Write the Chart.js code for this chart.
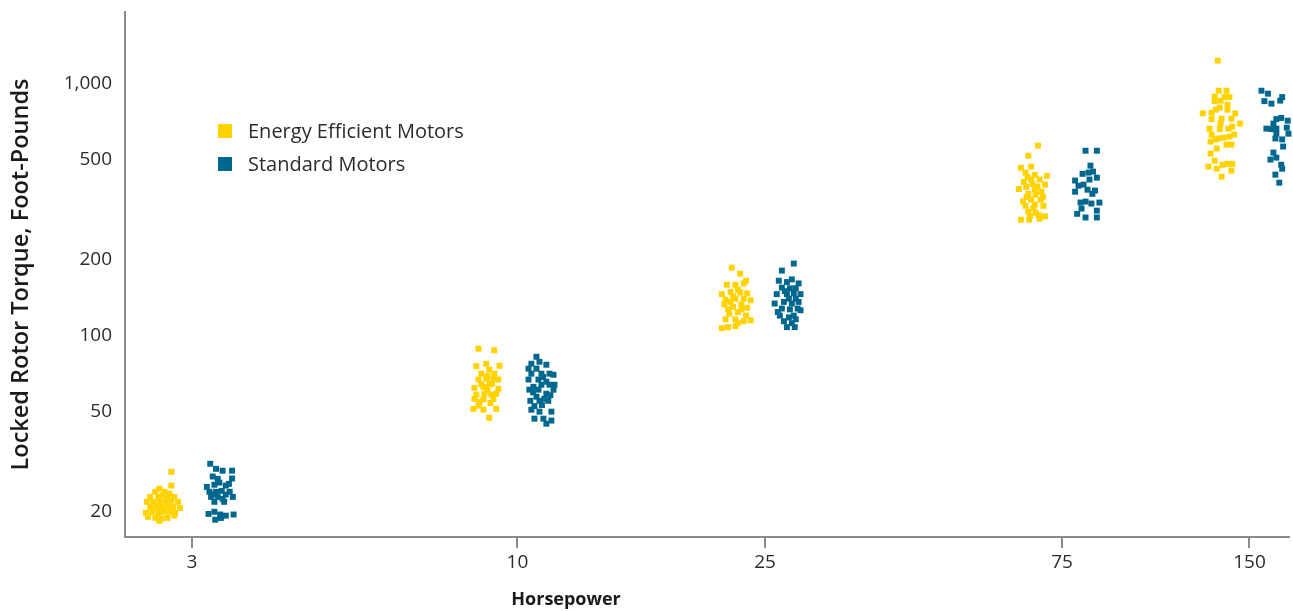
<!DOCTYPE html>
<html>
<head>
<meta charset="utf-8">
<script src="https://cdn.jsdelivr.net/npm/chart.js@4/dist/chart.umd.min.js"></script>
<style>
  html, body { margin: 0; padding: 0; background: #fff; }
  #wrap { width: 1293px; height: 611px; }
</style>
</head>
<body>
<div id="wrap"><canvas id="torqueChart" width="1293" height="611"></canvas></div>
<script>
// horsepower groups and the torque axis ticks
const hpTicks = [3, 10, 25, 75, 150];
const torqueTicks = [20, 50, 100, 200, 500, 1000];

// [horsepower (jittered), locked rotor torque]
const eff3 = [[2.78,28.8],[2.78,25.4],[2.66,24.7],[2.62,24.0],[2.71,24.0],[2.76,23.6],[2.57,22.9],[2.65,22.9],[2.69,23.2],[2.74,22.7],[2.81,22.9],[2.54,21.9],[2.60,21.9],[2.66,21.9],[2.72,21.9],[2.78,22.1],[2.85,21.9],[2.57,20.9],[2.63,20.9],[2.68,20.9],[2.74,21.1],[2.80,20.9],[2.87,20.7],[2.53,19.8],[2.59,20.0],[2.65,19.8],[2.70,20.0],[2.76,20.0],[2.82,19.8],[2.62,18.9],[2.68,18.8],[2.74,18.9],[2.55,19.1],[2.81,19.3],[2.66,18.4]];
const std3 = [[3.21,31.0],[3.28,29.6],[3.36,29.1],[3.48,29.1],[3.48,27.1],[3.24,27.6],[3.32,26.1],[3.17,25.1],[3.26,25.6],[3.40,25.4],[3.20,24.0],[3.28,24.0],[3.35,24.2],[3.45,24.0],[3.22,22.9],[3.30,22.9],[3.40,23.4],[3.49,22.9],[3.26,21.9],[3.38,21.9],[3.19,19.6],[3.26,20.0],[3.33,19.5],[3.40,19.3],[3.50,19.5],[3.27,18.6],[3.34,18.9],[3.30,27.0],[3.24,23.5],[3.36,22.5],[3.44,25.8]];
const eff10 = [[8.66,88.7],[9.18,87.4],[8.59,75.6],[8.91,77.3],[9.36,75.9],[8.75,70.6],[9.01,73.2],[9.18,70.6],[8.66,66.9],[8.91,67.4],[9.15,67.4],[9.32,66.9],[8.53,62.0],[8.82,62.6],[9.01,63.8],[9.32,61.5],[8.59,58.3],[8.85,58.8],[9.08,58.3],[9.25,58.8],[8.53,56.1],[8.82,55.8],[9.15,56.1],[8.50,51.2],[8.66,52.7],[8.82,50.8],[9.25,51.2],[9.01,47.2],[8.95,60.5],[9.10,64.5],[8.75,64.0],[9.05,54.0],[8.70,54.5],[8.95,69.0]];
const std10 = [[10.73,82.4],[10.53,77.3],[10.85,78.7],[10.42,73.9],[10.73,73.9],[11.13,76.6],[10.53,70.6],[10.93,70.6],[11.26,70.6],[10.42,66.9],[10.81,66.9],[11.13,65.6],[11.43,69.9],[10.61,62.6],[10.93,63.8],[11.26,63.8],[11.47,63.8],[10.45,61.0],[10.81,61.0],[11.13,58.8],[11.43,61.0],[10.73,57.2],[11.05,56.1],[10.49,55.1],[10.85,55.1],[11.21,55.1],[10.53,50.8],[10.85,49.9],[11.34,49.9],[10.65,46.8],[11.01,46.8],[11.13,44.7],[11.34,46.0],[10.60,59.5],[11.00,68.5],[10.65,52.5],[11.30,58.0],[10.95,53.0]];
const eff25 = [[22.1,186],[22.8,176],[21.7,159],[22.4,159],[23.1,161],[23.3,165],[21.3,146],[22.0,149],[22.8,148],[23.4,147],[21.6,139],[22.4,140],[23.1,140],[23.7,138],[21.5,133],[22.2,130],[22.9,133],[23.4,129],[21.9,122],[22.6,124],[23.3,120],[21.6,116],[22.4,116],[23.1,114],[23.7,115],[21.3,107],[21.8,108],[22.4,109],[22.6,152],[22.0,136],[22.9,127],[21.8,127],[22.6,112],[22.2,143]];
const std25 = [[27.8,193],[26.6,181],[26.3,165],[27.1,163],[27.6,167],[28.3,161],[26.6,155],[27.4,154],[28.0,154],[26.1,146],[27.1,146],[27.8,147],[28.5,146],[25.9,134],[26.8,136],[27.6,134],[28.3,136],[26.6,128],[27.4,127],[28.2,128],[26.4,120],[27.3,118],[27.8,120],[28.5,126],[26.8,114],[27.6,112],[28.0,116],[27.1,108],[27.9,108],[26.9,150],[27.3,140],[26.2,124],[28.0,140]];
const eff75 = [[68.6,567],[66.2,517],[64.4,463],[66.9,468],[65.5,443],[67.8,434],[70.9,430],[65.1,407],[66.9,416],[69.0,416],[63.9,381],[65.7,389],[67.8,381],[70.4,397],[66.2,365],[68.0,362],[66.9,346],[69.3,346],[65.5,327],[67.8,331],[70.0,327],[66.2,310],[68.0,307],[64.4,288],[66.4,288],[69.0,291],[70.4,297],[67.2,400],[68.5,390],[66.0,425],[69.5,372],[65.8,355],[67.4,320],[68.8,300],[66.6,298],[64.9,340],[69.9,355]];
const std75 = [[81.8,541],[85.3,541],[83.3,472],[80.9,438],[82.7,443],[84.1,447],[85.3,423],[78.7,412],[83.0,416],[79.7,393],[81.2,397],[78.7,372],[82.4,379],[84.7,376],[83.9,365],[80.3,337],[81.8,340],[83.6,334],[86.1,337],[80.6,319],[85.3,313],[79.3,304],[81.8,294],[85.3,294]];
const eff150 = [[133.4,1232],[133.9,936],[137.8,936],[131.9,887],[136.8,883],[139.3,883],[131.9,851],[134.8,855],[138.3,824],[134.4,802],[138.3,787],[126.2,761],[130.4,766],[132.4,787],[142.3,761],[130.4,722],[135.3,725],[140.3,725],[134.8,693],[144.9,693],[129.4,662],[134.4,659],[138.8,662],[140.8,674],[130.4,627],[133.9,605],[136.3,610],[139.3,615],[141.8,627],[129.9,588],[132.4,600],[137.8,572],[140.3,572],[132.9,552],[129.9,527],[131.9,494],[135.8,476],[138.3,480],[140.8,480],[128.9,468],[132.9,459],[140.3,451],[135.3,427]];
const std150 = [[156.8,936],[160.6,911],[169.3,883],[158.5,851],[162.7,832],[168.1,855],[165.7,722],[168.7,730],[172.8,712],[163.9,693],[159.7,662],[162.7,659],[165.7,662],[172.2,668],[165.7,632],[173.3,632],[165.1,605],[169.3,600],[169.9,562],[163.9,532],[165.7,508],[162.1,499],[168.7,476],[169.3,459],[165.1,435],[167.5,404]];

const seriesLabels = ['Energy Efficient Motors', 'Standard Motors'];
const seriesColors = ['#FFD200', '#00678F'];

const toPoints = arr => arr.map(p => ({ x: p[0], y: p[1] }));
const effPoints = [eff3, eff10, eff25, eff75, eff150].flatMap(toPoints);
const stdPoints = [std3, std10, std25, std75, std150].flatMap(toPoints);

const axisGray = '#8a8a8a';
const textColor = '#2b2b2b';

// legend sits inside the plot, upper left
const innerLegend = {
  id: 'innerLegend',
  afterDraw(chart) {
    const ctx = chart.ctx;
    ctx.save();
    ctx.font = '20px "Open Sans"';
    ctx.textBaseline = 'middle';
    seriesLabels.forEach((lbl, i) => {
      const y = 131 + i * 33;
      ctx.fillStyle = seriesColors[i];
      ctx.fillRect(218, y - 7, 14, 14);
      ctx.fillStyle = textColor;
      ctx.fillText(lbl, 248, y + 1);
    });
    // x axis title, offset left like the original
    ctx.font = 'bold 18px "Open Sans"';
    ctx.textAlign = 'center';
    ctx.fillStyle = '#1a1a1a';
    ctx.fillText('Horsepower', 566, 600);
    ctx.restore();
  }
};

const ctx = document.getElementById('torqueChart').getContext('2d');
new Chart(ctx, {
  type: 'scatter',
  data: {
    datasets: [
      {
        label: seriesLabels[0],
        data: effPoints,
        backgroundColor: seriesColors[0],
        borderWidth: 0,
        pointStyle: 'rect',
        pointRadius: 4.2,
        clip: false
      },
      {
        label: seriesLabels[1],
        data: stdPoints,
        backgroundColor: seriesColors[1],
        borderWidth: 0,
        pointStyle: 'rect',
        pointRadius: 4.2,
        clip: false
      }
    ]
  },
  options: {
    responsive: false,
    animation: false,
    layout: { padding: { top: 12, right: 0, left: 0, bottom: 0 } },
    plugins: {
      legend: { display: false },
      tooltip: { enabled: false }
    },
    scales: {
      x: {
        type: 'logarithmic',
        min: 2.342,
        max: 173.5,
        afterBuildTicks: s => { s.ticks = hpTicks.map(v => ({ value: v })); },
        afterFit: s => { s.height = 74; },
        grid: { drawOnChartArea: false, drawTicks: true, tickLength: 11, color: axisGray, lineWidth: 2 },
        border: { display: true, color: axisGray, width: 2 },
        ticks: {
          color: textColor,
          font: { family: 'Open Sans', size: 19 },
          padding: 3,
          maxRotation: 0,
          autoSkip: false,
          callback: v => String(v)
        }
      },
      y: {
        type: 'logarithmic',
        min: 15.88,
        max: 1921,
        afterBuildTicks: s => { s.ticks = torqueTicks.map(v => ({ value: v })); },
        afterFit: s => { s.width = 125; s.paddingTop = 0; s.paddingBottom = 0; },
        grid: { display: false, drawTicks: false },
        border: { display: true, color: axisGray, width: 2 },
        ticks: {
          color: textColor,
          font: { family: 'Open Sans', size: 19 },
          padding: 13,
          autoSkip: false,
          callback: v => Number(v).toLocaleString('en-US')
        },
        title: {
          display: true,
          text: 'Locked Rotor Torque, Foot-Pounds',
          color: '#1a1a1a',
          font: { family: 'Open Sans', size: 23.5, weight: '600' },
          padding: { top: 7, bottom: 0 }
        }
      }
    }
  },
  plugins: [innerLegend]
});
</script>
</body>
</html>
